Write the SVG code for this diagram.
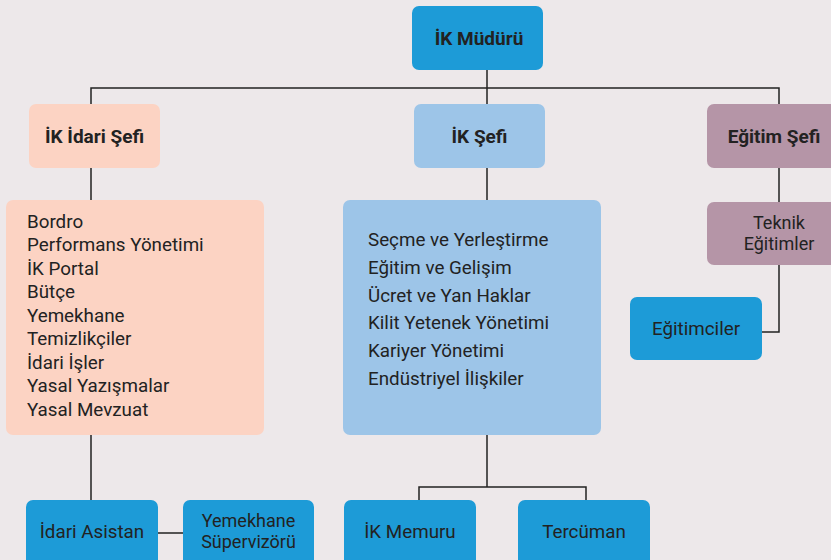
<svg xmlns="http://www.w3.org/2000/svg" width="831" height="560" viewBox="0 0 831 560">
<style>
.bg{fill:#ede8ea}
.blue{fill:#1d9bd7}
.lblue{fill:#9dc5e8}
.peach{fill:#fcd3c3}
.mauve{fill:#b595a7}
text{font-family:Roboto,"DejaVu Sans",sans-serif;fill:#222;font-size:18.8px}
.b{font-weight:bold;font-size:19px}
.c{text-anchor:middle}
.t2{font-size:18px}
.ln{fill:none;stroke:#222;stroke-width:1.5}
</style>
<rect class="bg" width="831" height="560"/>
<g id="connectors">
<path class="ln" d="M487 70V104M91 104V88H779V104M91 168V200M91 435V500M487 168V200M779 168V202M779 265V332H762M158 533H183M487 435V487M419 500V487H586V500"/>
</g>
<g id="n-mudur"><rect class="blue" x="412" y="6" width="131" height="64" rx="7"/><text class="b c" x="479" y="45">İK Müdürü</text></g>
<g id="n-idari-sefi"><rect class="peach" x="29" y="104" width="131" height="64" rx="7"/><text class="b c" x="94.5" y="143">İK İdari Şefi</text></g>
<g id="n-ik-sefi"><rect class="lblue" x="414" y="104" width="131" height="64" rx="7"/><text class="b c" x="479.5" y="143">İK Şefi</text></g>
<g id="n-egitim-sefi"><rect class="mauve" x="707" y="104" width="131" height="64" rx="7"/><text class="b c" x="774" y="143">Eğitim Şefi</text></g>
<g id="n-idari-list"><rect class="peach" x="6" y="200" width="258" height="235" rx="7"/>
<text x="27" y="227.5">Bordro</text>
<text x="27" y="251">Performans Yönetimi</text>
<text x="27" y="274.5">İK Portal</text>
<text x="27" y="298">Bütçe</text>
<text x="27" y="321.5">Yemekhane</text>
<text x="27" y="345">Temizlikçiler</text>
<text x="27" y="368.5">İdari İşler</text>
<text x="27" y="392">Yasal Yazışmalar</text>
<text x="27" y="415.5">Yasal Mevzuat</text>
</g>
<g id="n-ik-list"><rect class="lblue" x="343" y="200" width="258" height="235" rx="7"/>
<text x="368" y="245.5">Seçme ve Yerleştirme</text>
<text x="368" y="273.5">Eğitim ve Gelişim</text>
<text x="368" y="301.5">Ücret ve Yan Haklar</text>
<text x="368" y="328.5">Kilit Yetenek Yönetimi</text>
<text x="368" y="356.5">Kariyer Yönetimi</text>
<text x="368" y="384.5">Endüstriyel İlişkiler</text>
</g>
<g id="n-teknik"><rect class="mauve" x="707" y="202" width="131" height="63" rx="7"/><text class="c t2" x="779" y="229">Teknik</text><text class="c t2" x="779" y="250">Eğitimler</text></g>
<g id="n-egitimciler"><rect class="blue" x="630" y="297" width="132" height="63" rx="7"/><text class="c" x="696" y="335">Eğitimciler</text></g>
<g id="n-idari-asistan"><rect class="blue" x="26" y="500" width="132" height="66" rx="7"/><text class="c" x="92" y="538">İdari Asistan</text></g>
<g id="n-yemekhane"><rect class="blue" x="183" y="500" width="131" height="66" rx="7"/><text class="c t2" x="248.5" y="527">Yemekhane</text><text class="c t2" x="248.5" y="548">Süpervizörü</text></g>
<g id="n-memur"><rect class="blue" x="344" y="500" width="132" height="66" rx="7"/><text class="c" x="410" y="538">İK Memuru</text></g>
<g id="n-tercuman"><rect class="blue" x="518" y="500" width="132" height="66" rx="7"/><text class="c" x="584" y="538">Tercüman</text></g>
</svg>
